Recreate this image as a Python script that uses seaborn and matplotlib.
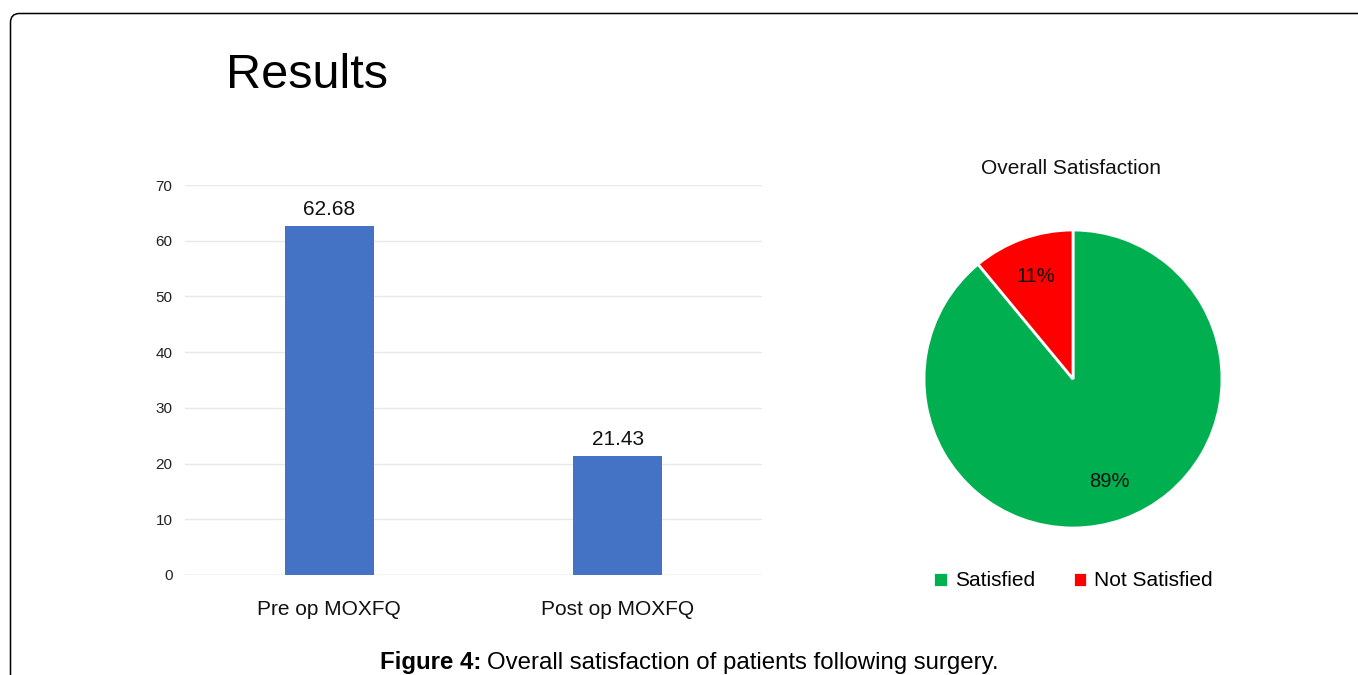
import seaborn as sns
import matplotlib.pyplot as plt
import pandas as pd
from matplotlib.patches import FancyBboxPatch
from matplotlib.transforms import IdentityTransform

# Bar chart data
categories = ["Pre op MOXFQ", "Post op MOXFQ"]
scores = [62.68, 21.43]

# Pie chart data
pie_labels = ["Satisfied", "Not Satisfied"]
pie_values = [89, 11]
pie_colors = ["#00B050", "#FF0000"]

if __name__ == "__main__":

    sns.set_theme(style="white")
    plt.rcParams["font.family"] = ["Liberation Sans", "DejaVu Sans"]
    plt.rcParams["text.color"] = "black"

    fig = plt.figure(figsize=(13.58, 6.75), dpi=100)
    W, H = 1358, 675

    # Frame round the figure (only left and top edges visible)
    frame = FancyBboxPatch((10.5, -60), 1500, (H - 13.5) + 60,
                           boxstyle="round,pad=0,rounding_size=9",
                           transform=IdentityTransform(), fill=False,
                           edgecolor="black", linewidth=1.1)
    fig.patches.append(frame)

    fig.text(226 / W, 1 - 88 / H, "Results", fontsize=35, ha="left", va="baseline")

    # Bar chart
    ax = fig.add_axes([185 / W, 1 - 575 / H, (762 - 185) / W, (575 - 185) / H])
    df = pd.DataFrame({"measure": categories, "score": scores})
    sns.barplot(df, x="measure", y="score", color="#4472C4", saturation=1,
                width=0.31, linewidth=0, ax=ax)
    ax.set_ylim(0, 70)
    ax.set_xlim(-0.5, 1.5)
    ax.set_yticks(range(0, 71, 10))
    ax.yaxis.grid(True, color="#e8e8e8", linewidth=1)
    ax.set_axisbelow(True)
    for s in ax.spines.values():
        s.set_visible(False)
    ax.axhline(0, color="#d0d0d0", linewidth=1, zorder=0)
    ax.tick_params(axis="y", length=0, pad=9, labelsize=11, labelcolor="#222222")
    ax.tick_params(axis="x", length=0, pad=18, labelsize=15, labelcolor="#111111")
    ax.set_xlabel("")
    ax.set_ylabel("")
    ax.bar_label(ax.containers[0], labels=[f"{v:.2f}" for v in scores],
                 padding=5, fontsize=15, color="#111111")

    # Pie chart
    r = 149
    cx, cy = 1073, 379
    pax = fig.add_axes([(cx - r) / W, 1 - (cy + r) / H, 2 * r / W, 2 * r / H])
    wedges, _, autotexts = pax.pie(pie_values, colors=pie_colors, startangle=90,
                                   counterclock=False, autopct="%1.0f%%",
                                   pctdistance=0.73,
                                   wedgeprops={"edgecolor": "white", "linewidth": 2},
                                   textprops={"fontsize": 14.5, "color": "#111111"})
    pax.set_xlim(-1, 1)
    pax.set_ylim(-1, 1)
    pax.set_aspect("equal")

    fig.text(1071 / W, 1 - 169 / H, "Overall Satisfaction", fontsize=15,
             ha="center", va="center", color="#111111")

    fig.legend(wedges, pie_labels, loc="center", bbox_to_anchor=(1073 / W, 1 - 581 / H),
               ncol=2, frameon=False, fontsize=15, handlelength=0.7,
               handleheight=0.7, handletextpad=0.35, columnspacing=1.8)

    # Caption: bold lead followed by regular text
    fig.canvas.draw()
    lead = fig.text(380 / W, 1 - 669 / H, "Figure 4:", fontsize=17.3, fontweight="bold",
                    ha="left", va="baseline")
    bb = lead.get_window_extent(renderer=fig.canvas.get_renderer())
    fig.text((bb.x1 + 6) / W, 1 - 669 / H,
             "Overall satisfaction of patients following surgery.",
             fontsize=17.3, ha="left", va="baseline")

    plt.savefig("out.png", dpi=100)
